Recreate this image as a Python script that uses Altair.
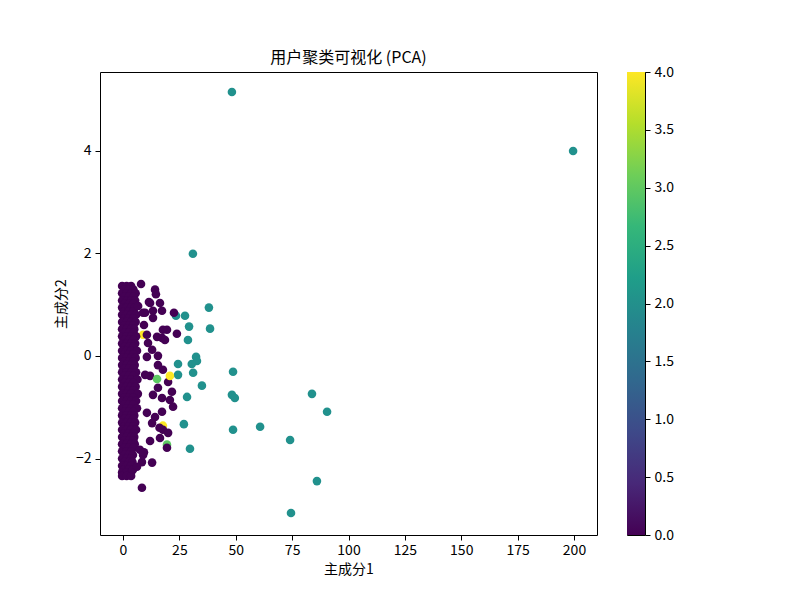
import altair as alt
import pandas as pd

FONT = "Noto Sans CJK SC"

# dense band of cluster-0 points near x≈0 : (y, [x values])
band_rows = [
    (1.36, [-0.4, 1.6, 3.6]),
    (1.29, [0.6, 2.6, 4.6]),
    (1.22, [-0.4, 1.6, 3.6, 5.6]),
    (1.15, [0.6, 2.6, 4.6]),
    (1.08, [-0.4, 1.6, 3.6, 5.4]),
    (1.01, [0.6, 2.6, 4.6]),
    (0.94, [-0.4, 1.6, 3.6, 5.2]),
    (0.87, [0.6, 2.6, 4.6]),
    (0.80, [-0.4, 1.6, 3.6, 5.8]),
    (0.73, [0.6, 2.6, 4.6]),
    (0.66, [-0.4, 1.6, 3.6, 5.6]),
    (0.59, [0.6, 2.6, 4.6]),
    (0.52, [-0.4, 1.6, 3.6, 5.0]),
    (0.45, [0.6, 2.6, 4.6]),
    (0.38, [-0.4, 1.6, 3.6, 5.8]),
    (0.31, [0.6, 2.6, 4.6]),
    (0.24, [-0.4, 1.6, 3.6, 5.4]),
    (0.17, [0.6, 2.6, 4.6]),
    (0.10, [-0.4, 1.6, 3.6, 6.2]),
    (0.03, [0.6, 2.6, 4.6]),
    (-0.04, [-0.4, 1.6, 3.6, 5.6]),
    (-0.11, [0.6, 2.6, 4.6]),
    (-0.18, [-0.4, 1.6, 3.6, 5.2]),
    (-0.25, [0.6, 2.6, 4.6]),
    (-0.32, [-0.4, 1.6, 3.6, 5.8]),
    (-0.39, [0.6, 2.6, 4.6]),
    (-0.46, [-0.4, 1.6, 3.6, 6.4]),
    (-0.53, [0.6, 2.6, 4.6]),
    (-0.60, [-0.4, 1.6, 3.6, 5.6]),
    (-0.67, [0.6, 2.6, 4.6]),
    (-0.74, [-0.4, 1.6, 3.6, 6.6]),
    (-0.81, [0.6, 2.6, 4.6]),
    (-0.88, [-0.4, 1.6, 3.6, 5.8]),
    (-0.95, [0.6, 2.6, 4.6]),
    (-1.02, [-0.4, 1.6, 3.6, 6.2]),
    (-1.09, [0.6, 2.6, 4.6]),
    (-1.16, [-0.4, 1.6, 3.6, 5.0]),
    (-1.23, [0.6, 2.6, 4.6]),
    (-1.30, [-0.4, 1.6, 3.6, 5.4]),
    (-1.37, [0.6, 2.6, 4.6]),
    (-1.44, [-0.4, 1.6, 3.6, 5.8]),
    (-1.51, [0.6, 2.6, 4.6]),
    (-1.58, [-0.4, 1.6, 3.6, 5.0]),
    (-1.65, [0.6, 2.6, 4.6]),
    (-1.72, [-0.4, 1.6, 3.6, 5.2]),
    (-1.79, [0.6, 2.6, 4.6]),
    (-1.86, [-0.4, 1.6, 3.6]),
    (-1.93, [0.6, 2.6, 4.4]),
    (-2.00, [-0.4, 1.6, 3.6]),
    (-2.07, [0.6, 2.6, 4.2]),
    (-2.14, [-0.4, 1.6, 3.6]),
    (-2.21, [0.6, 2.6]),
    (-2.27, [-0.4, 1.6, 3.6]),
    (-2.34, [-0.4, 1.6, 3.6]),
]

# scattered cluster-0 points
c0_x = [8.0, 14.2, 14.6, 11.5, 16.4, 17.3, 8.9, 6.7, 22.6, 13.3, 9.3, 19.5, 23.9,
        15.1, 17.3, 10.6, 12.9, 10.6, 15.5, 17.7, 15.5, 20.0, 21.7, 17.3, 20.8,
        22.2, 10.6, 14.2, 17.3, 12.9, 17.7, 20.0, 16.4, 19.5, 7.5, 8.4, 12.9,
        4.4, 8.4, 6.2, 8.9, 12.0, 9.8, 13.3, 17.7, 11.1, 18.6, 15.5, 12.0, 9.8,
        13.3, 16.2, 12.0, 9.3]
c0_y = [1.40, 1.29, 1.20, 1.05, 1.03, 0.88, 0.84, 0.97, 0.84, 0.74, 0.60, 0.51, 0.43,
        0.37, 0.35, 0.41, 0.12, -0.02, -0.18, -0.27, -0.62, -0.51, -0.70, -0.82, -0.86,
        -0.99, -1.11, -1.19, -1.09, -1.31, -1.44, -1.50, -1.60, -1.79, -1.83, -2.07, -2.08,
        -2.22, -2.57, -2.16, -1.93, 1.03, 0.84, 0.88, 0.51, 0.25, 0.31, 0.00, -0.39, -0.37,
        -0.76, -1.40, -1.66, -1.88]

# cluster-2 points
c2_x = [48.3, 199.6, 31.0, 38.1, 38.6, 27.5, 23.5, 29.3, 28.8, 32.4, 32.8, 30.5,
        24.4, 31.1, 48.8, 35.0, 28.4, 48.3, 49.6, 83.8, 90.5, 27.0, 48.8, 60.8,
        74.1, 29.7, 86.0, 74.5, 24.4]
c2_y = [5.14, 3.99, 1.99, 0.94, 0.53, 0.78, 0.78, 0.57, 0.31, -0.02, -0.10, -0.16,
        -0.16, -0.33, -0.31, -0.58, -0.80, -0.76, -0.82, -0.74, -1.09, -1.33, -1.44, -1.38,
        -1.64, -1.81, -2.44, -3.06, -0.37]

# clusters 3 and 4: partly hidden ones first, visible ones drawn last
hidden_x = [3.5, 8.9, 17.7, 19.5]
hidden_y = [0.86, 0.41, -1.36, -1.73]
hidden_c = [4, 4, 4, 3]
top_x = [15.1, 20.8]
top_y = [-0.45, -0.39]
top_c = [3, 4]

rows = []
k = 0
def add(x, y, c, layer):
    global k
    rows.append({"pc1": x, "pc2": y, "cluster": c, "ord": layer * 10000 + k})
    k += 1

for x, y, c in zip(hidden_x, hidden_y, hidden_c):
    add(x, y, c, 0)
for x, y in zip(c2_x, c2_y):
    add(x, y, 2, 1)
for y, xs in band_rows:
    for x in xs:
        add(x, y, 0, 2)
for x, y in zip(c0_x, c0_y):
    add(x, y, 0, 2)
for x, y, c in zip(top_x, top_y, top_c):
    add(x, y, c, 3)

df = pd.DataFrame(rows)

x_ticks = [0, 25, 50, 75, 100, 125, 150, 175, 200]
y_ticks = [-2, 0, 2, 4]
cbar_ticks = [0, 0.5, 1.0, 1.5, 2.0, 2.5, 3.0, 3.5, 4.0]
cbar_range = pd.DataFrame({"lo": [0.0], "hi": [4.0]})
viridis_stops = ["#440154", "#482878", "#3e4989", "#31688e", "#26828e",
                 "#1f9e89", "#35b779", "#6ece58", "#b5de2b", "#fde725"]

axis_common = dict(grid=False, domain=False, tickSize=5, tickColor="black",
                   labelColor="black", labelFontSize=14, labelFont=FONT,
                   titleFont=FONT, titleFontSize=14, titleFontWeight="normal",
                   titleColor="black")

main = alt.Chart(df).mark_circle(size=74, opacity=1).encode(
    x=alt.X("pc1:Q", title="主成分1",
            scale=alt.Scale(domain=[-10.2, 210.2], nice=False, zero=False),
            axis=alt.Axis(values=x_ticks, labelPadding=3, titlePadding=5, **axis_common)),
    y=alt.Y("pc2:Q", title="主成分2",
            scale=alt.Scale(domain=[-3.49, 5.53], nice=False, zero=False),
            axis=alt.Axis(values=y_ticks, labelPadding=4, titlePadding=7, **axis_common)),
    color=alt.Color("cluster:Q",
                    scale=alt.Scale(scheme="viridis", domain=[0, 4]),
                    legend=None),
    order=alt.Order("ord:Q"),
).properties(
    width=497,
    height=463,
    title=alt.TitleParams("用户聚类可视化 (PCA)", font=FONT, fontSize=16,
                          fontWeight="normal", color="black", offset=6,
                          anchor="middle", frame="group"),
)

grad = alt.Gradient(
    gradient="linear",
    stops=[alt.GradientStop(color=c, offset=i / (len(viridis_stops) - 1))
           for i, c in enumerate(viridis_stops)],
    x1=0, x2=0, y1=1, y2=0,
)

cbar = alt.Chart(cbar_range).mark_rect(color=grad).encode(
    x=alt.value(0),
    x2=alt.value(18),
    y=alt.Y("lo:Q", title=None,
            scale=alt.Scale(domain=[0, 4], nice=False, zero=False),
            axis=alt.Axis(orient="right", values=cbar_ticks, format=".1f",
                          labelPadding=4, labelBaseline="middle", **axis_common)),
    y2="hi:Q",
).properties(width=18, height=463)

chart = alt.hconcat(main, cbar, spacing=30, bounds="flush").properties(
    padding={"left": 45, "top": 41, "right": 5, "bottom": 5},
).configure_view(stroke="black", strokeWidth=1)

chart.save("out.html", embed_options={"renderer": "svg", "actions": False})
